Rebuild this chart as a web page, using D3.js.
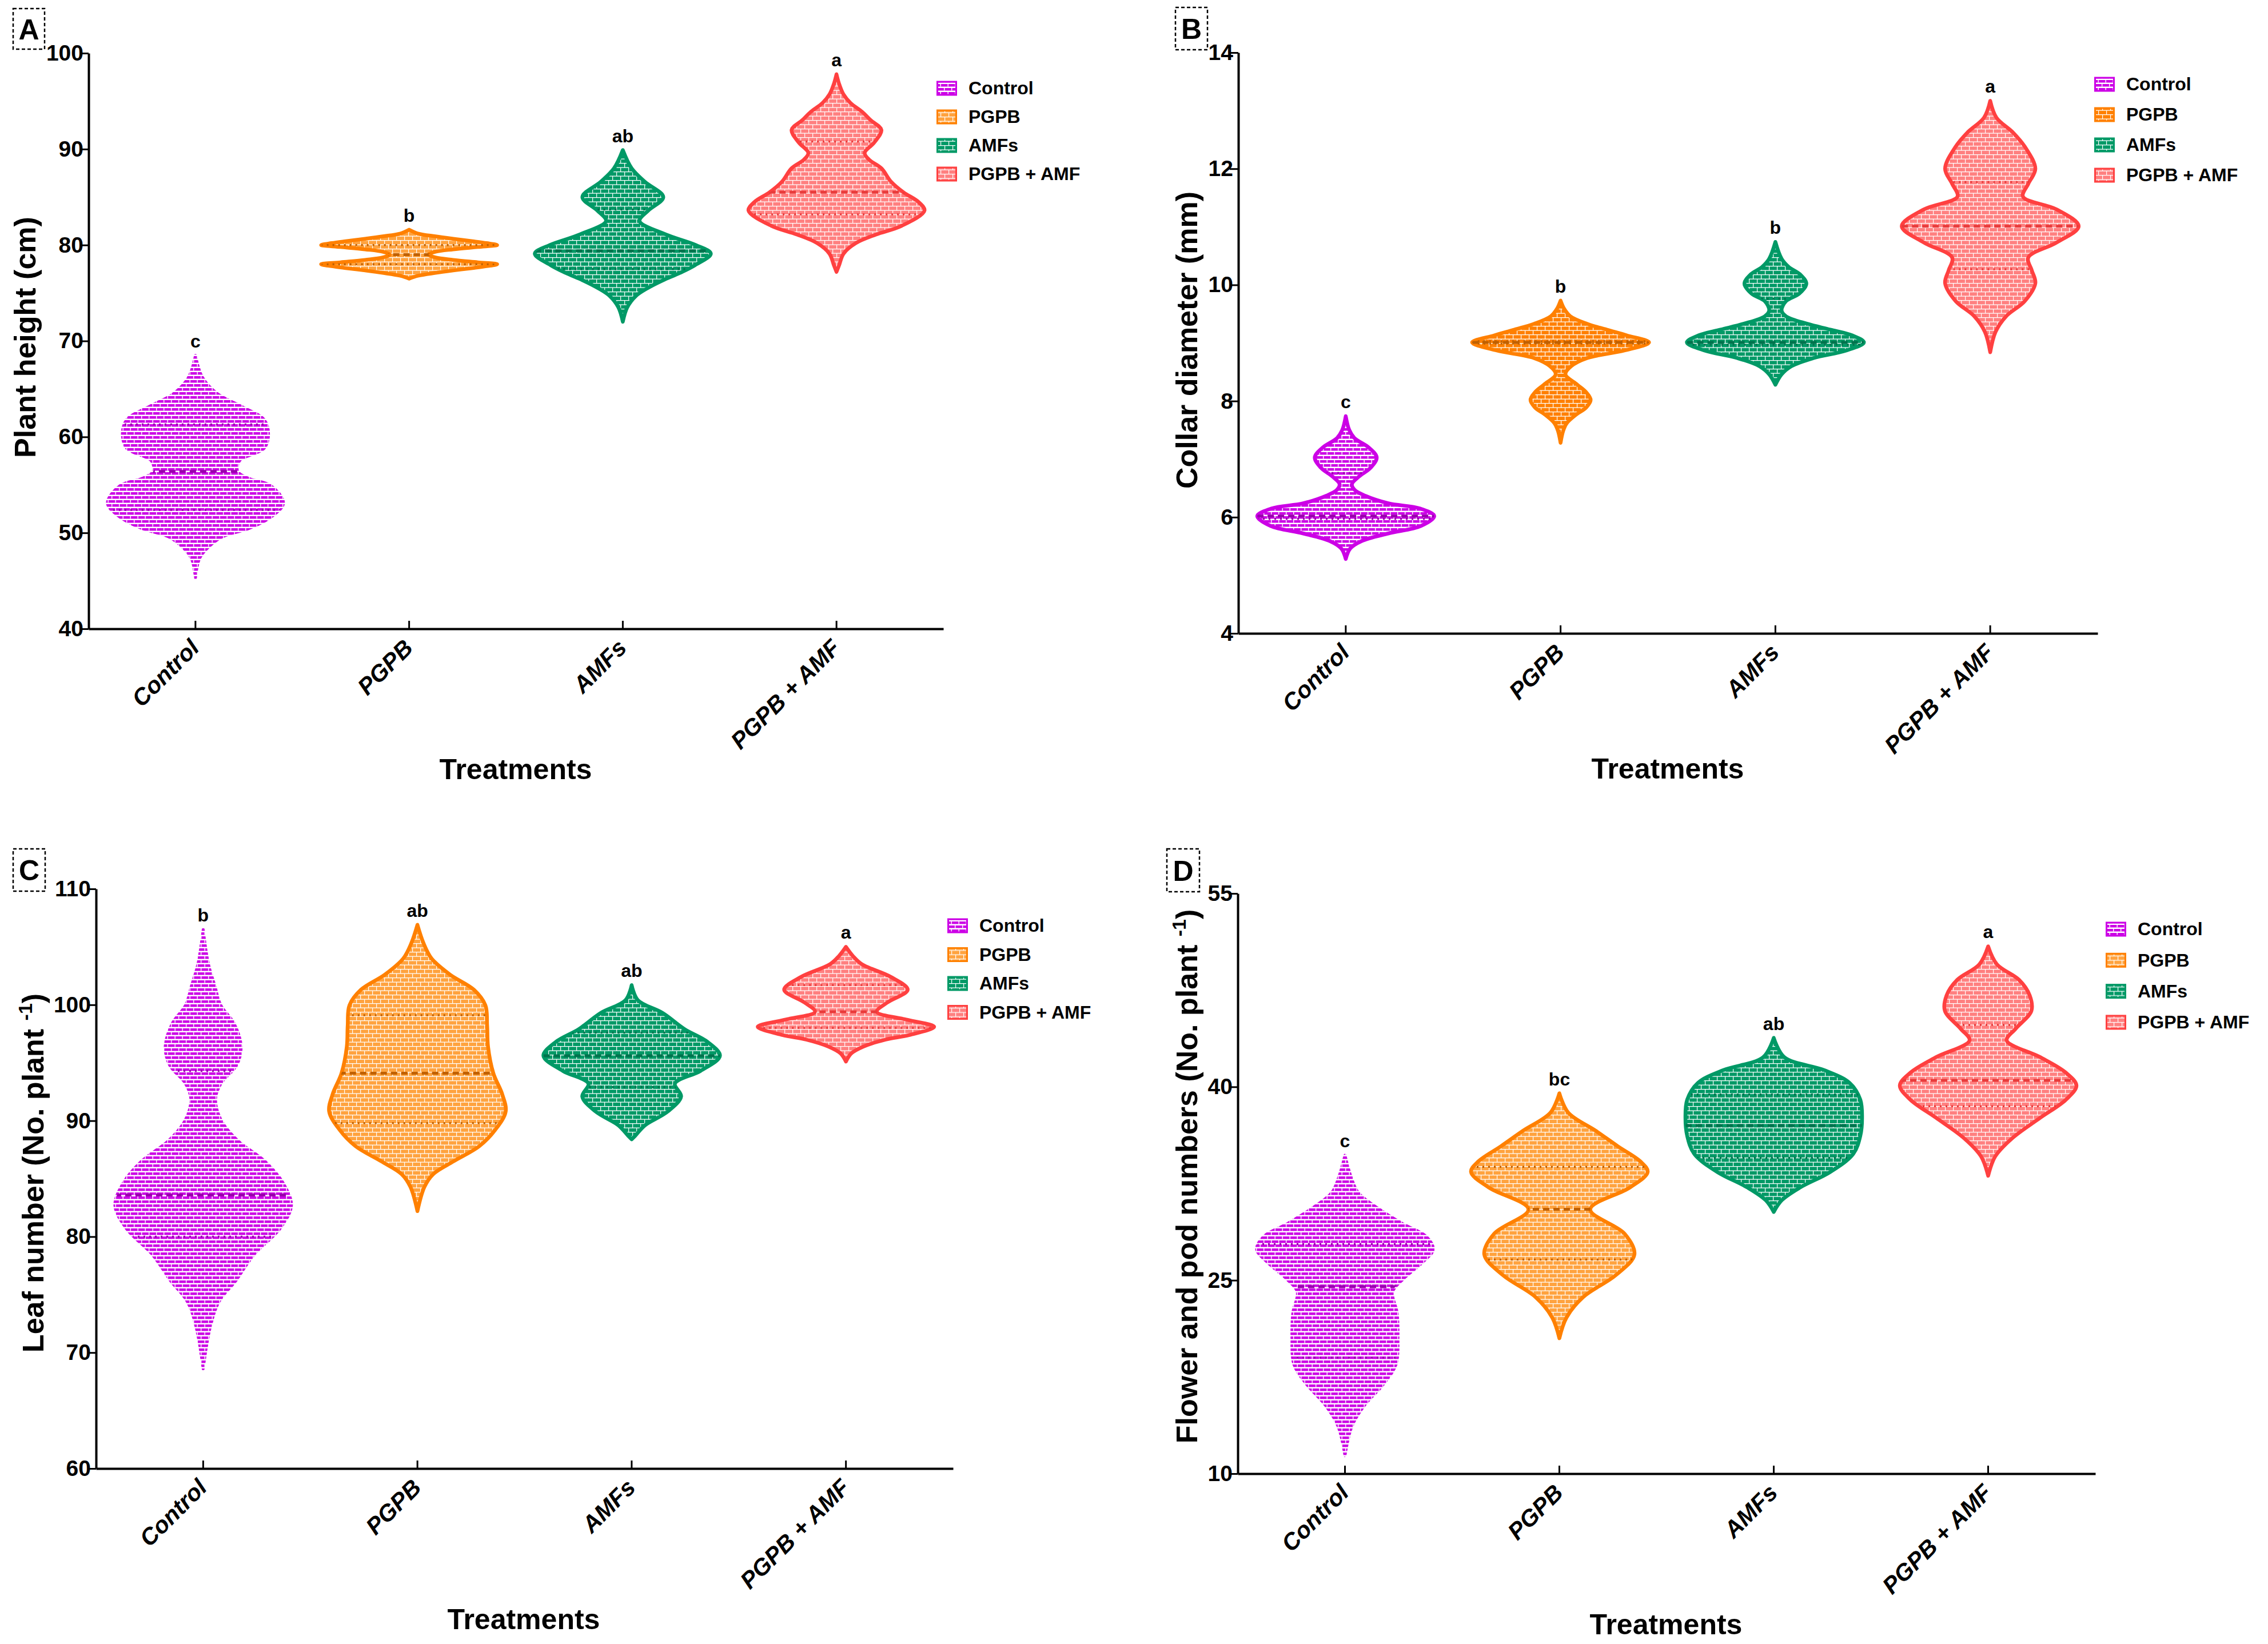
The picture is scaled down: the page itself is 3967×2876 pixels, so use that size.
<!DOCTYPE html>
<html>
<head>
<meta charset="utf-8">
<script src="https://cdn.jsdelivr.net/npm/d3@7"></script>
<style>
  body { margin: 0; background: #fff; }
  svg { display: block; }
  text { font-family: "Liberation Sans", Arial, sans-serif; font-weight: bold; fill: #000; }
</style>
</head>
<body>
<svg id="chart" width="3967" height="2876"></svg>
<script>
const treatments = ['Control', 'PGPB', 'AMFs', 'PGPB + AMF']

// violin outlines: [value, half width relative to the widest point]
const heightViolins = [
  [[45.3,0],[47.4,0.05],[48.7,0.17],[49.6,0.31],[50.5,0.62],[51.8,0.88],[53.1,1],[54.9,0.86],[55.7,0.6],[56.4,0.48],[57.5,0.5],[58.8,0.78],[60.3,0.83],[61.8,0.78],[63.2,0.52],[64.5,0.25],[66.2,0.08],[68.5,0]],
  [[76.5,0],[76.8,0.1],[77.1,0.3],[77.35,0.5],[77.6,0.72],[77.8,0.88],[78,1],[78.2,0.78],[78.45,0.5],[78.7,0.3],[79,0.22],[79.3,0.3],[79.55,0.5],[79.8,0.78],[80,1],[80.2,0.88],[80.4,0.72],[80.65,0.5],[80.9,0.3],[81.2,0.1],[81.6,0]],
  [[72,0],[73.5,0.05],[74.7,0.15],[75.5,0.28],[76.3,0.45],[77.1,0.65],[77.9,0.82],[79.1,1],[80,0.83],[81.1,0.49],[82.5,0.19],[83.6,0.29],[85,0.46],[86.6,0.25],[88,0.1],[89.9,0]],
  [[77.2,0],[77.9,0.03],[79.1,0.08],[80.2,0.22],[81.1,0.45],[82,0.74],[83.6,1],[84.5,0.93],[85.5,0.76],[86.6,0.62],[88,0.51],[88.9,0.37],[89.6,0.32],[90.7,0.43],[92,0.51],[93,0.39],[93.9,0.29],[94.8,0.16],[95.7,0.08],[96.8,0.03],[97.8,0]]
]
const heightQuartiles = [[52.4, 56.4, 61.3], [78.0, 79.0, 80.0], [77.5, 79.4, 83.7], [83.2, 85.5, 90.8]]
const heightLetters = ['c', 'b', 'ab', 'a']
const heightTicks = [40, 50, 60, 70, 80, 90, 100]

const collarViolins = [
  [[5.28,0],[5.46,0.05],[5.59,0.18],[5.72,0.48],[5.85,0.85],[6.02,1],[6.15,0.84],[6.24,0.48],[6.37,0.22],[6.47,0.1],[6.57,0.07],[6.7,0.15],[6.85,0.28],[7.03,0.35],[7.2,0.26],[7.36,0.1],[7.5,0.04],[7.74,0]],
  [[7.28,0],[7.49,0.03],[7.62,0.07],[7.76,0.17],[7.89,0.29],[8.02,0.34],[8.15,0.29],[8.28,0.19],[8.46,0.055],[8.6,0.12],[8.74,0.3],[8.87,0.72],[9.01,1],[9.13,0.75],[9.23,0.52],[9.33,0.3],[9.46,0.11],[9.59,0.04],[9.73,0]],
  [[8.28,0],[8.46,0.07],[8.6,0.18],[8.74,0.43],[8.87,0.8],[9.01,1],[9.13,0.87],[9.23,0.62],[9.33,0.36],[9.46,0.12],[9.56,0.07],[9.72,0.12],[9.85,0.27],[10.02,0.35],[10.18,0.28],[10.31,0.15],[10.45,0.07],[10.74,0]],
  [[8.84,0],[9.19,0.06],[9.46,0.18],[9.72,0.39],[10.03,0.51],[10.25,0.47],[10.47,0.43],[10.73,0.75],[11.01,1],[11.3,0.75],[11.52,0.37],[11.74,0.43],[12,0.51],[12.36,0.4],[12.62,0.26],[12.88,0.07],[13.17,0]]
]
const collarQuartiles = [[5.97, 6.02, 6.76], [8.99, 9.01, 9.03], [8.97, 9.01, 9.76], [10.27, 11.01, 11.77]]
const collarLetters = ['c', 'b', 'b', 'a']
const collarTicks = [4, 6, 8, 10, 12, 14]

const leafViolins = [
  [[68.6,0],[72.2,0.08],[74.4,0.18],[76.2,0.37],[78.4,0.57],[80.7,0.87],[82.7,1],[84.7,0.9],[86.5,0.7],[88.3,0.39],[90.1,0.2],[91.9,0.14],[93.2,0.2],[94.8,0.38],[96.4,0.43],[98.4,0.35],[99.96,0.2],[101.7,0.13],[103.5,0.06],[106.5,0]],
  [[82.2,0],[84.3,0.08],[85.4,0.18],[86.5,0.41],[87.8,0.7],[89.2,0.88],[90.8,1],[92.3,0.96],[94.1,0.86],[96.4,0.8],[98.2,0.79],[99.96,0.77],[101.3,0.64],[102.6,0.37],[104,0.16],[105.3,0.07],[106.9,0]],
  [[88.4,0],[88.7,0.04],[89.6,0.15],[90.8,0.41],[92.1,0.56],[93.2,0.49],[94.3,0.78],[95.6,1],[96.8,0.86],[97.9,0.6],[99.3,0.35],[100.4,0.07],[101.7,0]],
  [[95.1,0],[95.8,0.06],[96.4,0.2],[97,0.45],[97.4,0.72],[98.1,1],[98.7,0.7],[99.4,0.35],[100.2,0.47],[101.3,0.7],[102.4,0.51],[103.5,0.18],[104.2,0.08],[105,0]]
]
const leafQuartiles = [[80.0, 83.6, 94.3], [89.8, 94.1, 99.1], [92.9, 95.6, 97.6], [98.0, 99.4, 101.7]]
const leafLetters = ['b', 'ab', 'ab', 'a']
const leafTicks = [60, 70, 80, 90, 100, 110]

const flowerViolins = [
  [[11.4,0],[13.7,0.08],[15.3,0.22],[16.9,0.43],[18.5,0.58],[20.5,0.6],[22.5,0.59],[24.1,0.54],[25.1,0.66],[26.4,0.88],[27.4,1],[28.4,0.92],[29.4,0.65],[30.6,0.37],[31.8,0.15],[33,0.07],[34.7,0]],
  [[20.5,0],[22.1,0.08],[23.7,0.27],[25.4,0.64],[27,0.85],[28.6,0.74],[30.5,0.35],[32.2,0.8],[33.4,1],[34.2,0.92],[35.4,0.66],[36.6,0.41],[38,0.1],[39.5,0]],
  [[30.3,0],[31.2,0.09],[32.2,0.3],[33.4,0.64],[34.8,0.9],[36.2,0.98],[37.6,1],[39,0.98],[40.3,0.86],[41.3,0.57],[42.3,0.12],[43.8,0]],
  [[33.1,0],[34.6,0.08],[36,0.27],[37.6,0.59],[39,0.88],[40.1,1],[41.1,0.88],[42.3,0.59],[43.6,0.21],[44.5,0.31],[45.9,0.49],[47.1,0.47],[48.3,0.35],[49.5,0.1],[50.9,0]]
]
const flowerQuartiles = [[19.0, 24.5, 27.8], [26.6, 30.5, 33.8], [34.5, 37.0, 39.4], [38.5, 40.5, 44.8]]
const flowerLetters = ['c', 'bc', 'ab', 'a']
const flowerTicks = [10, 25, 40, 55]

const lineColors = ['#cc00e6', '#ff8000', '#009966', '#ff4040']

const panels = [
  { tag: 'A', violins: heightViolins, quartiles: heightQuartiles, letters: heightLetters, ticks: heightTicks,
    domain: [40, 100], title: 'Plant height  (cm)', sup: null,
    xr: [155, 1650], yr: [1100, 93], box: [23, 15, 55, 71], titleAt: [62, 590], xTitleAt: [902, 1363],
    legend: [1638, 154, 50], controlLine: false, pgpbFill: '#ffa33f' },
  { tag: 'B', violins: collarViolins, quartiles: collarQuartiles, letters: collarLetters, ticks: collarTicks,
    domain: [4, 14], title: 'Collar diameter (mm)', sup: null,
    xr: [2166, 3669], yr: [1108, 92], box: [2056, 13, 56, 74], titleAt: [2094, 595], xTitleAt: [2917, 1362],
    legend: [3663, 147, 53], controlLine: true, pgpbFill: '#ff8000' },
  { tag: 'C', violins: leafViolins, quartiles: leafQuartiles, letters: leafLetters, ticks: leafTicks,
    domain: [60, 110], title: 'Leaf number (No. plant ', sup: '-1',
    xr: [168, 1667], yr: [2569, 1555], box: [23, 1485, 56, 74], titleAt: [76, 2052], xTitleAt: [916, 2850],
    legend: [1657, 1619, 50.5], controlLine: false, pgpbFill: '#ffa33f' },
  { tag: 'D', violins: flowerViolins, quartiles: flowerQuartiles, letters: flowerLetters, ticks: flowerTicks,
    domain: [10, 55], title: 'Flower and pod numbers (No. plant ', sup: '-1',
    xr: [2165, 3665], yr: [2578, 1563], box: [2041, 1485, 57, 75], titleAt: [2094, 2058], xTitleAt: [2914, 2859],
    legend: [3683, 1625, 54.3], controlLine: false, pgpbFill: '#ffa33f' }
]

const svg = d3.select('#chart')
const defs = svg.append('defs')

function brickPattern(id, fill) {
  let p = defs.append('pattern').attr('id', id)
    .attr('patternUnits', 'userSpaceOnUse').attr('width', 14).attr('height', 15)
  p.append('rect').attr('width', 14).attr('height', 15).attr('fill', fill)
  p.append('path').attr('d', 'M0,0.6H14M0,8.1H14M0.6,0.6V8.1M7.6,8.1V15')
    .attr('stroke', '#fff').attr('stroke-width', 1.2).attr('fill', 'none')
}

// control is drawn as stripes rather than a filled brick
let cp = defs.append('pattern').attr('id', 'pat-control')
  .attr('patternUnits', 'userSpaceOnUse').attr('width', 13).attr('height', 14)
cp.append('rect').attr('width', 13).attr('height', 14).attr('fill', lineColors[0])
cp.append('path').attr('d', 'M0,5.8H13M0,12.8H13').attr('stroke', '#fff').attr('stroke-width', 2.6)
cp.append('path').attr('d', 'M0.7,0V4.6M7.2,7V11.6').attr('stroke', '#fff').attr('stroke-width', 1.4)

brickPattern('pat-pgpb-light', '#ffa33f')
brickPattern('pat-pgpb-solid', '#ff8000')
brickPattern('pat-amf', '#009966')
brickPattern('pat-combo', '#ff8080')

function fillFor(i, p) {
  if (i === 0) return 'url(#pat-control)'
  if (i === 1) return p.pgpbFill === '#ff8000' ? 'url(#pat-pgpb-solid)' : 'url(#pat-pgpb-light)'
  if (i === 2) return 'url(#pat-amf)'
  return 'url(#pat-combo)'
}

function strokeFor(i, p) {
  if (i === 0) return p.controlLine ? lineColors[0] : 'url(#pat-control)'
  return lineColors[i]
}

panels.forEach((p, pi) => {
  let g = svg.append('g').attr('class', 'panel-' + p.tag)
  let x = d3.scaleBand().domain(treatments).range(p.xr)
  let y = d3.scaleLinear().domain(p.domain).range(p.yr)
  let half = x.step() * 0.412

  // axes
  let yAxis = g.append('g').attr('transform', `translate(${p.xr[0]},0)`)
    .call(d3.axisLeft(y).tickValues(p.ticks).tickSize(15).tickPadding(-6).tickSizeOuter(0))
  let xAxis = g.append('g').attr('transform', `translate(0,${p.yr[0]})`)
    .call(d3.axisBottom(x).tickSize(-14).tickSizeOuter(0).tickFormat(''))
  ;[yAxis, xAxis].forEach(a => {
    a.select('.domain').attr('stroke', '#000').attr('stroke-width', 4)
    a.selectAll('.tick line').attr('stroke', '#000').attr('stroke-width', 3)
  })
  yAxis.selectAll('.tick text')
    .style('font-family', '"Liberation Sans", Arial, sans-serif')
    .style('font-weight', 'bold').attr('font-size', 39).attr('fill', '#000')

  g.selectAll('text.xlab').data(treatments).enter().append('text')
    .attr('class', 'xlab')
    .attr('transform', d => `translate(${x(d) + x.bandwidth() / 2 + 9},${p.yr[0] + 36}) rotate(-45)`)
    .attr('text-anchor', 'end').attr('font-size', 41).attr('font-style', 'italic')
    .text(d => d)

  // violins
  p.violins.forEach((prof, i) => {
    let cx = x(treatments[i]) + x.bandwidth() / 2
    let area = d3.area().curve(d3.curveCatmullRom.alpha(0.5))
      .y(d => y(d[0]))
      .x0(d => cx - d[1] * half)
      .x1(d => cx + d[1] * half)
    let dPath = area(prof)
    let clipId = `clip-${p.tag}-${i}`
    defs.append('clipPath').attr('id', clipId).append('path').attr('d', dPath)

    g.append('path').attr('d', dPath)
      .attr('fill', fillFor(i, p))
      .attr('stroke', strokeFor(i, p))
      .attr('stroke-width', i === 0 && !p.controlLine ? 5 : 6.5)
      .attr('stroke-linejoin', 'round')

    let qc = d3.color(lineColors[i]).darker(i === 3 ? 0.25 : 0.8).formatHex()
    let q = p.quartiles[i]
    g.append('g').attr('clip-path', `url(#${clipId})`)
      .selectAll('line').data(q).enter().append('line')
      .attr('x1', cx - half).attr('x2', cx + half)
      .attr('y1', d => y(d)).attr('y2', d => y(d))
      .attr('stroke', qc)
      .attr('stroke-width', (d, k) => k === 1 ? 5 : 3.5)
      .attr('stroke-dasharray', (d, k) => k === 1 ? '11,7' : '3,7')

    let top = d3.max(prof, d => d[0])
    g.append('text').attr('x', cx).attr('y', y(top) - 14)
      .attr('text-anchor', 'middle').attr('font-size', 32)
      .text(p.letters[i])
  })

  // legend
  let lg = g.append('g').attr('transform', `translate(${p.legend[0]},${p.legend[1]})`)
  treatments.forEach((t, i) => {
    let row = lg.append('g').attr('transform', `translate(0,${i * p.legend[2]})`)
    row.append('rect').attr('x', 1.5).attr('y', -11).attr('width', 33).attr('height', 23)
      .attr('fill', fillFor(i, p))
      .attr('stroke', lineColors[i]).attr('stroke-width', 3)
    row.append('text').attr('x', 56).attr('y', 0).attr('dy', '0.35em')
      .attr('font-size', 32).text(t)
  })

  // axis titles
  let yt = g.append('text')
    .attr('transform', `translate(${p.titleAt[0]},${p.titleAt[1]}) rotate(-90)`)
    .attr('text-anchor', 'middle').attr('font-size', 52)
  yt.append('tspan').text(p.title)
  if (p.sup) {
    yt.append('tspan').attr('dy', -20).attr('font-size', 34).text(p.sup)
    yt.append('tspan').attr('dy', 20).text(')')
  }
  g.append('text').attr('x', p.xTitleAt[0]).attr('y', p.xTitleAt[1])
    .attr('text-anchor', 'middle').attr('font-size', 50).text('Treatments')

  // panel tag
  g.append('rect').attr('x', p.box[0]).attr('y', p.box[1]).attr('width', p.box[2]).attr('height', p.box[3])
    .attr('fill', 'none').attr('stroke', '#000').attr('stroke-width', 2.5).attr('stroke-dasharray', '6,4')
  g.append('text').attr('x', p.box[0] + p.box[2] / 2).attr('y', p.box[1] + p.box[3] / 2)
    .attr('dy', '0.36em').attr('text-anchor', 'middle').attr('font-size', 50).text(p.tag)
})
</script>
</body>
</html>
